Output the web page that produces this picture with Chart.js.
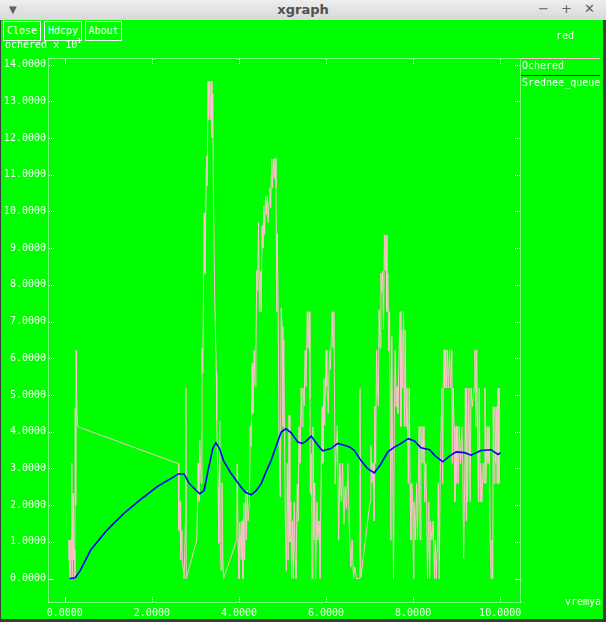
<!DOCTYPE html>
<html><head><meta charset="utf-8">
<script src="https://cdn.jsdelivr.net/npm/chart.js@4.4.0/dist/chart.umd.min.js"></script>
<style>
html,body{margin:0;padding:0;width:606px;height:622px;overflow:hidden;background:#3c3c3c;}
#title{position:absolute;left:0;top:0;width:606px;height:20px;background:linear-gradient(#eeeeee,#d8d8d8);font-family:"DejaVu Sans",sans-serif;color:#505050;}
#title .t{position:absolute;left:0;width:606px;top:2px;text-align:center;font-weight:bold;font-size:13px;}
#title .g{position:absolute;top:1px;font-size:13px;color:#606060;}
#green{position:absolute;left:1px;top:20px;width:602px;height:599px;background:#00ff00;}
.btn{position:absolute;top:21px;height:20px;box-sizing:border-box;border:1px solid #fff;color:#fff;font-family:"DejaVu Sans Mono",monospace;font-size:10px;line-height:18px;text-align:center;}
canvas{position:absolute;left:0;top:0;}
</style></head><body>
<div id="title"><span class="g" style="left:9px;font-size:10px;top:4px">&#9660;</span><div class="t">xgraph</div>
<span class="g" style="left:538px">&#8722;</span><span class="g" style="left:561px">+</span><span class="g" style="left:584px">&#10005;</span></div>
<div id="green"></div>
<div class="btn" style="left:3px;width:38px">Close</div>
<div class="btn" style="left:44px;width:38px">Hdcpy</div>
<div class="btn" style="left:85px;width:37px">About</div>
<canvas id="c" width="606" height="622"></canvas>
<script>
const seriesNames = ["Ochered", "Srednee_queue"];
const xTickValues = [0, 2, 4, 6, 8, 10];
const yTickValues = [0,1,2,3,4,5,6,7,8,9,10,11,12,13,14];

const pinkX = [0.10,0.10,0.12,0.13,0.15,0.16,0.17,0.19,0.20,0.22,0.23,0.24,0.25,0.26,0.27,0.29,
2.61,2.62,2.65,2.66,2.69,2.70,2.74,2.77,2.78,2.79,3.03,
3.05,3.06,3.08,3.10,3.13,3.15,3.17,3.20,3.22,3.25,3.26,3.27,3.29,3.30,3.32,3.34,3.36,3.38,3.40,3.41,3.44,3.48,3.49,3.52,3.54,3.56,3.57,3.59,3.61,3.63,3.645,
3.95,3.96,3.98,4.00,4.02,4.05,4.07,4.09,4.11,4.13,4.15,4.17,4.19,4.21,4.24,4.26,4.28,4.30,4.32,4.35,4.37,4.39,4.41,4.43,4.45,4.47,4.49,4.51,4.53,4.55,4.57,4.59,4.61,4.63,4.65,4.67,4.69,4.71,4.73,4.75,4.77,4.79,4.81,4.83,4.85,4.87,4.88,4.90,4.92,4.95,4.97,4.99,5.01,5.03,5.05,5.07,5.09,5.11,5.13,5.15,5.17,5.19,5.21,5.23,5.25,5.27,5.29,5.31,
5.34,5.36,5.38,5.40,5.43,5.45,5.47,5.50,5.52,5.54,5.57,5.59,5.61,5.63,5.64,5.66,5.68,5.70,5.72,5.74,5.76,5.79,5.81,5.84,5.86,5.88,5.91,5.93,5.95,5.97,6.00,6.02,6.05,6.08,6.10,6.14,6.16,6.18,6.21,6.23,6.26,6.29,6.32,6.35,6.38,6.41,6.44,6.47,6.50,6.53,6.57,6.60,6.63,6.66,6.70,6.76,6.78,6.80,
7.01,7.03,7.06,7.08,7.10,7.12,7.14,7.16,7.18,7.20,7.22,7.24,7.26,7.28,7.30,7.32,7.34,7.36,7.38,7.40,7.42,7.44,7.46,7.49,7.51,7.53,7.55,7.57,7.59,7.61,7.63,7.65,7.68,
7.70,7.72,7.74,7.76,7.78,7.80,7.82,7.84,7.86,7.89,7.91,7.93,7.95,7.97,7.99,8.01,8.02,8.05,8.08,8.10,8.12,8.14,8.16,8.18,8.20,8.23,8.25,8.27,8.29,8.31,8.33,8.36,8.38,8.40,8.43,8.46,8.49,8.51,8.53,8.56,8.58,8.60,8.62,8.66,8.68,8.69,8.71,8.73,8.75,8.77,8.79,8.81,8.84,8.86,8.89,8.90,8.92,8.94,8.96,8.99,9.00,9.02,9.04,9.06,9.09,9.12,9.14,9.16,9.19,9.20,9.22,9.23,9.25,9.28,9.31,9.33,9.36,9.40,9.42,9.44,9.46,9.47,9.50,9.52,9.54,9.55,9.58,9.61,9.63,9.65,9.67,9.70,9.72,9.75,9.77,9.79,9.81,9.83,9.84,9.86,9.88,9.90,9.92,9.93,9.95,9.97,9.98];
const pinkY = [1.05,0.52,0.0,1.05,0.5,3.14,0.0,2.33,0.52,0.77,0.0,4.65,2.0,6.22,5.2,4.14,
3.13,1.31,2.1,0.52,1.31,0.5,0.0,1.5,5.2,0.0,1.05,
2.09,3.14,2.1,3.77,2.6,6.28,5.6,9.96,8.3,11.23,11.5,10.7,13.55,12.5,13.55,12.5,13.55,12.0,13.2,10.97,7.86,5.6,4.32,2.5,0.96,4.3,0.96,0.23,2.6,0.5,0.0,
1.05,3.12,1.05,0.0,1.54,0.52,1.57,0.0,2.05,0.5,2.3,1.05,2.4,1.57,2.09,4.14,3.6,5.87,4.5,6.22,5.23,6.3,8.4,7.85,9.69,7.27,8.37,7.27,9.61,9.0,10.14,9.37,10.41,9.9,10.41,9.7,10.24,10.65,10.1,11.43,10.65,11.43,10.9,11.45,10.65,7.27,9.4,7.37,3.91,2.22,7.37,6.86,4.14,6.5,3.5,1.05,0.2,3.14,0.5,4.45,1.0,2.08,0.0,1.57,0.0,2.08,0.52,0.0,
2.58,1.57,4.13,3.14,5.19,4.13,5.19,4.7,6.22,5.23,7.27,6.28,7.27,4.9,2.31,3.4,0.0,4.13,1.05,2.6,0.0,2.08,1.05,1.57,0.0,2.08,4.68,3.14,5.45,4.18,6.22,5.23,4.5,6.22,5.7,7.27,6.28,7.27,2.58,3.4,4.18,1.05,3.14,2.09,3.14,1.49,2.5,1.9,3.13,1.57,0.31,1.05,0.0,0.31,0.0,0.0,5.18,0.04,
2.08,3.63,2.6,3.14,1.57,4.7,3.14,6.22,5.18,4.7,7.32,6.28,8.32,7.8,8.37,6.8,9.36,8.4,9.36,7.27,8.3,6.2,7.27,1.04,6.59,3.14,0.0,4.68,6.22,4.68,5.23,4.5,6.22,
7.27,4.14,6.77,5.18,7.27,4.14,6.77,4.14,5.19,2.59,5.19,2.59,1.05,2.59,2.09,0.0,2.09,1.05,2.59,1.05,2.59,4.14,1.05,4.14,3.14,4.14,3.14,2.09,3.14,2.09,0.0,2.09,0.0,1.57,1.05,1.57,0.0,1.05,0.0,1.05,2.59,0.0,2.59,5.19,2.59,5.19,6.23,5.19,6.23,5.19,6.23,5.19,6.23,5.19,6.23,3.14,5.19,4.14,2.09,4.14,2.59,4.14,2.59,4.14,3.14,4.14,3.14,0.55,3.14,5.19,1.57,5.19,2.09,5.19,2.09,5.19,4.68,5.19,6.23,4.14,6.23,5.19,2.09,5.19,2.09,3.14,2.09,3.14,2.6,5.19,2.59,4.14,3.14,4.14,1.05,0.0,1.05,0.0,4.68,2.59,4.68,3.14,4.68,2.59,5.19,2.59,5.19];

const blueX = [0.11,0.24,0.36,0.59,0.97,1.35,1.73,2.12,2.50,2.61,2.74,2.85,3.00,3.10,3.20,3.30,3.40,3.47,3.55,3.65,3.82,4.05,4.15,4.28,4.40,4.51,4.62,4.74,4.85,4.97,5.08,5.20,5.35,5.46,5.55,5.66,5.80,5.92,6.11,6.27,6.42,6.55,6.65,6.80,6.95,7.11,7.25,7.42,7.57,7.72,7.89,8.03,8.18,8.38,8.50,8.68,8.85,8.99,9.18,9.33,9.56,9.79,9.95,10.01];
const blueY = [0.0,0.02,0.23,0.77,1.32,1.77,2.14,2.50,2.77,2.85,2.85,2.60,2.42,2.31,2.40,3.00,3.55,3.70,3.55,3.20,2.86,2.49,2.35,2.28,2.40,2.58,2.90,3.22,3.60,3.99,4.08,3.97,3.72,3.68,3.75,3.88,3.65,3.48,3.54,3.68,3.63,3.58,3.49,3.22,3.00,2.88,3.10,3.45,3.58,3.68,3.81,3.75,3.56,3.51,3.35,3.18,3.35,3.45,3.43,3.36,3.49,3.51,3.38,3.43];

const FONT = '10px "DejaVu Sans Mono", monospace';
const toPts = (xs, ys) => xs.map((v, i) => ({x: v, y: ys[i]}));

const xg = {
  id: 'xg',
  afterDraw(chart) {
    const ctx = chart.ctx, xs = chart.scales.x, ys = chart.scales.y;
    ctx.save();
    ctx.strokeStyle = '#fff'; ctx.lineWidth = 1;
    ctx.setLineDash([1, 1]);
    ctx.beginPath();
    ctx.moveTo(48.5, 58.5); ctx.lineTo(520.5, 58.5);
    ctx.moveTo(48.5, 58.5); ctx.lineTo(48.5, 603);
    ctx.moveTo(520.5, 58.5); ctx.lineTo(520.5, 603);
    ctx.moveTo(48.5, 602.5); ctx.lineTo(521, 602.5);
    ctx.stroke();
    yTickValues.forEach(v => {
      const p = Math.round(ys.getPixelForValue(v)) + 0.5;
      ctx.setLineDash(v === 0 ? [] : [1, 1]);
      ctx.beginPath();
      if (v === 0) { ctx.moveTo(48, p); ctx.lineTo(54, p); ctx.moveTo(515, p); ctx.lineTo(521, p); }
      else { ctx.moveTo(49, p); ctx.lineTo(54, p); ctx.moveTo(515, p); ctx.lineTo(520, p); }
      ctx.stroke();
    });
    xTickValues.forEach(v => {
      const p = Math.round(xs.getPixelForValue(v)) + 0.5;
      ctx.setLineDash(v === 0 ? [] : [1, 1]);
      ctx.beginPath();
      ctx.moveTo(p, 597); ctx.lineTo(p, 602);
      ctx.moveTo(p, 59); ctx.lineTo(p, 64);
      ctx.stroke();
    });
    ctx.setLineDash([]);
    ctx.strokeStyle = '#ffc0cb';
    ctx.beginPath(); ctx.moveTo(521, 58.5); ctx.lineTo(600, 58.5); ctx.stroke();
    ctx.strokeStyle = '#0000ff';
    ctx.beginPath(); ctx.moveTo(521, 75.5); ctx.lineTo(600, 75.5); ctx.stroke();
    ctx.fillStyle = '#fff'; ctx.font = FONT; ctx.textBaseline = 'alphabetic'; ctx.textAlign = 'left';
    ctx.fillText(seriesNames[0], 522, 69);
    ctx.fillText(seriesNames[1], 522, 86);
    ctx.fillText('ochered x 10', 5, 48);
    ctx.font = '7px "DejaVu Sans Mono", monospace';
    ctx.fillText('1', 77, 43);
    ctx.font = FONT;
    ctx.fillText('red', 556, 39);
    ctx.textAlign = 'right';
    ctx.fillText('vremya', 601, 605);
    ctx.restore();
  }
};

new Chart(document.getElementById('c'), {
  type: 'scatter',
  data: {
    datasets: [
      {label: seriesNames[0], data: toPts(pinkX, pinkY), showLine: true, borderColor: '#ffc0cb', borderWidth: 1, pointRadius: 0, tension: 0, order: 1},
      {label: seriesNames[1], data: toPts(blueX, blueY), showLine: true, borderColor: '#0000ff', borderWidth: 1.6, pointRadius: 0, tension: 0, order: 0}
    ]
  },
  options: {
    responsive: false, animation: false, devicePixelRatio: 1,
    layout: {padding: {left: 0, top: 58, right: 86, bottom: 0}},
    plugins: {legend: {display: false}, tooltip: {enabled: false}},
    scales: {
      x: {type: 'linear', min: -0.363, max: 10.455,
          afterFit: s => { s.height = 19; },
          afterBuildTicks: s => { s.ticks = xTickValues.map(v => ({value: v})); },
          grid: {display: false, drawTicks: false, tickLength: 0}, border: {display: false},
          ticks: {color: '#fff', font: {family: 'DejaVu Sans Mono', size: 10}, padding: 4, maxRotation: 0, autoSkip: false,
                  callback: v => v.toFixed(4)}},
      y: {type: 'linear', min: -0.666, max: 14.18,
          afterFit: s => { s.width = 49; },
          afterBuildTicks: s => { s.ticks = yTickValues.map(v => ({value: v})); },
          grid: {display: false, drawTicks: false, tickLength: 0}, border: {display: false},
          ticks: {color: '#fff', font: {family: 'DejaVu Sans Mono', size: 10}, padding: 3, autoSkip: false,
                  callback: v => v.toFixed(4)}}
    }
  },
  plugins: [xg]
});
</script>
</body></html>
